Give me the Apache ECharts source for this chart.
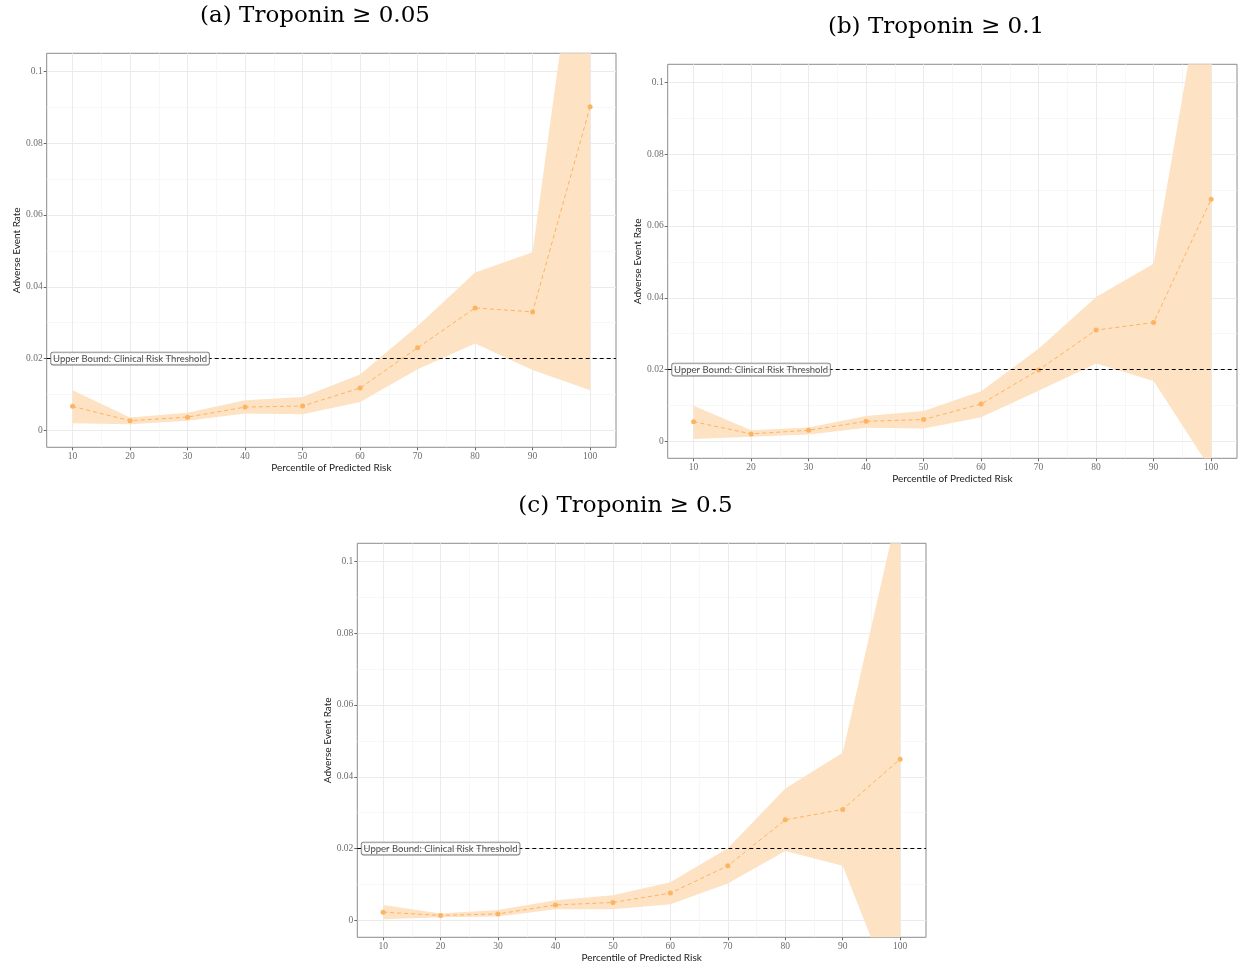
<!DOCTYPE html>
<html>
<head>
<meta charset="utf-8">
<title>Adverse event rate by percentile of predicted risk</title>
<script src="https://cdn.jsdelivr.net/npm/echarts@6/dist/echarts.min.js"></script>
<style>
  html, body { margin: 0; padding: 0; background: #fff; }
  #chart { width: 1238px; height: 965px; }
</style>
</head>
<body>
<div id="chart"></div>
<script>
// Percentile bins of predicted risk (x axis)
const percentiles = [10, 20, 30, 40, 50, 60, 70, 80, 90, 100];
const xMajorTicks = [10, 20, 30, 40, 50, 60, 70, 80, 90, 100];
const xMinorTicks = [15, 25, 35, 45, 55, 65, 75, 85, 95];
const yMajorTicks = [0, 0.02, 0.04, 0.06, 0.08, 0.1];
const yMinorTicks = [0.01, 0.03, 0.05, 0.07, 0.09];

// (a) Troponin >= 0.05
const rateA  = [0.0067, 0.0027, 0.0037, 0.0065, 0.0068, 0.0118, 0.0230, 0.0341, 0.0330, 0.0901];
const lowerA = [0.0020, 0.0017, 0.0027, 0.0047, 0.0045, 0.0079, 0.0170, 0.0242, 0.0168, 0.0112];
const upperA = [0.0112, 0.0036, 0.0049, 0.0084, 0.0093, 0.0156, 0.0291, 0.0440, 0.0496, 0.1670];

// (b) Troponin >= 0.1
const rateB  = [0.0055, 0.0021, 0.0031, 0.0056, 0.0061, 0.0104, 0.0199, 0.0310, 0.0331, 0.0674];
const lowerB = [0.0007, 0.0013, 0.0019, 0.0038, 0.0036, 0.0067, 0.0141, 0.0217, 0.0168, -0.0079];
const upperB = [0.0099, 0.0031, 0.0039, 0.0071, 0.0085, 0.0140, 0.0258, 0.0402, 0.0495, 0.1420];

// (c) Troponin >= 0.5
const rateC  = [0.0023, 0.0014, 0.0018, 0.0043, 0.0050, 0.0076, 0.0152, 0.0280, 0.0309, 0.0449];
const lowerC = [0.0003, 0.0009, 0.0011, 0.0031, 0.0031, 0.0045, 0.0103, 0.0193, 0.0152, -0.0254];
const upperC = [0.0043, 0.0019, 0.0029, 0.0056, 0.0070, 0.0106, 0.0201, 0.0367, 0.0467, 0.1170];

const threshold = 0.02;
const thresholdLabel = 'Upper Bound: Clinical Risk Threshold';
const thresholdLabelX = 20;

const panelTitles = ['(a) Troponin \u2265 0.05', '(b) Troponin \u2265 0.1', '(c) Troponin \u2265 0.5'];
const xAxisTitle = 'Percentile of Predicted Risk';
const yAxisTitle = 'Adverse Event Rate';

const panels = [
  { rate: rateA, lower: lowerA, upper: upperA },
  { rate: rateB, lower: lowerB, upper: upperB },
  { rate: rateC, lower: lowerC, upper: upperC }
];

// Panel placement (pixels)
const layout = [
  { left: 46.7,  top: 53.3,  width: 569.3, height: 394, title: [315, 16] },
  { left: 667.7, top: 64.3,  width: 569.3, height: 394, title: [936, 27] },
  { left: 357.3, top: 543.3, width: 568.7, height: 394, title: [625.5, 506] }
];

const X_MIN = 5.5, X_MAX = 104.5;
const Y_MIN = -0.0047, Y_MAX = 0.105;

const ORANGE = '#fdb462';
const BAND = '#fde2c3';
const GRID_MAJOR = '#ebebeb';
const GRID_MINOR = '#f4f4f4';
const TICK_FONT = { fontFamily: 'Liberation Serif', fontSize: 9.5, color: '#6e6e6e' };
const TITLE_FONT = { fontFamily: 'Lato', fontSize: 10, color: '#1a1a1a' };

// Ribbon between lower and upper bounds, drawn once as a single polygon
function renderBand(params, api) {
  if (params.dataIndexInside !== 0) return null;
  const n = params.dataInsideLength;
  const top = [], bottom = [];
  for (let j = 0; j < n; j++) {
    const x = api.value(0, j);
    top.push(api.coord([x, api.value(2, j)]));
    bottom.push(api.coord([x, api.value(1, j)]));
  }
  const cs = params.coordSys;
  return {
    type: 'polygon',
    shape: { points: top.concat(bottom.reverse()) },
    style: { fill: BAND },
    clipPath: { type: 'rect', shape: { x: cs.x, y: cs.y, width: cs.width, height: cs.height } },
    silent: true
  };
}

const grids = [], xAxes = [], yAxes = [], series = [], graphics = [];

panels.forEach((p, i) => {
  const L = layout[i];
  grids.push({
    left: L.left, top: L.top, width: L.width, height: L.height,
    show: true, borderColor: '#8c8c8c', borderWidth: 1, backgroundColor: '#fff',
    containLabel: false
  });

  // major x axis (labels, ticks, major grid)
  xAxes.push({
    type: 'value', gridIndex: i, min: X_MIN, max: X_MAX, position: 'bottom',
    name: xAxisTitle, nameLocation: 'middle', nameGap: 15,
    nameTextStyle: TITLE_FONT,
    axisLine: { show: false, onZero: false },
    axisTick: { show: true, length: 3, lineStyle: { color: '#666' }, customValues: xMajorTicks },
    axisLabel: Object.assign({ margin: 4, customValues: xMajorTicks }, TICK_FONT),
    splitLine: { show: true, lineStyle: { color: GRID_MAJOR, width: 1 } }
  });
  // minor x grid
  xAxes.push({
    type: 'value', gridIndex: i, min: X_MIN, max: X_MAX, position: 'bottom',
    axisLine: { show: false, onZero: false },
    axisTick: { show: false, customValues: xMinorTicks },
    axisLabel: { show: false, customValues: xMinorTicks },
    splitLine: { show: true, lineStyle: { color: GRID_MINOR, width: 0.7 } }
  });

  // major y axis
  yAxes.push({
    type: 'value', gridIndex: i, min: Y_MIN, max: Y_MAX, position: 'left',
    name: yAxisTitle, nameLocation: 'middle', nameGap: 25,
    nameTextStyle: TITLE_FONT,
    axisLine: { show: false, onZero: false },
    axisTick: { show: true, length: 3, lineStyle: { color: '#666' }, customValues: yMajorTicks },
    axisLabel: Object.assign({ margin: 4, customValues: yMajorTicks }, TICK_FONT),
    splitLine: { show: true, lineStyle: { color: GRID_MAJOR, width: 1 } }
  });
  // minor y grid
  yAxes.push({
    type: 'value', gridIndex: i, min: Y_MIN, max: Y_MAX, position: 'left',
    axisLine: { show: false, onZero: false },
    axisTick: { show: false, customValues: yMinorTicks },
    axisLabel: { show: false, customValues: yMinorTicks },
    splitLine: { show: true, lineStyle: { color: GRID_MINOR, width: 0.7 } }
  });

  const xi = 2 * i, yi = 2 * i;

  // confidence band
  series.push({
    type: 'custom', xAxisIndex: xi, yAxisIndex: yi,
    data: percentiles.map((x, k) => [x, p.lower[k], p.upper[k]]),
    encode: { x: 0, y: [1, 2] },
    renderItem: renderBand,
    silent: true, z: 1
  });

  // observed rate with the threshold reference line
  series.push({
    type: 'line', xAxisIndex: xi, yAxisIndex: yi,
    data: percentiles.map((x, k) => [x, p.rate[k]]),
    symbol: 'circle', symbolSize: 5,
    itemStyle: { color: ORANGE },
    lineStyle: { color: ORANGE, width: 1, type: [4, 3] },
    z: 3,
    markLine: {
      silent: true, symbol: 'none',
      label: { show: false },
      lineStyle: { color: '#000', width: 1, type: [4, 3] },
      data: [{ yAxis: threshold }],
      z: 4
    }
  });

  // boxed threshold label
  series.push({
    type: 'scatter', xAxisIndex: xi, yAxisIndex: yi,
    data: [[thresholdLabelX, threshold]],
    symbolSize: 0, silent: true, z: 10,
    label: {
      show: true, position: 'inside', formatter: thresholdLabel,
      fontFamily: 'Lato', fontSize: 9.5, color: '#1a1a1a',
      backgroundColor: '#fff', borderColor: '#555', borderWidth: 0.8, borderRadius: 2,
      padding: [1, 2, 1, 2]
    }
  });

  graphics.push({
    type: 'text', x: L.title[0], y: L.title[1], silent: true,
    style: {
      text: panelTitles[i], fill: '#000',
      font: '23px "DejaVu Serif"', align: 'center', verticalAlign: 'middle'
    }
  });
});

const chart = echarts.init(document.getElementById('chart'), null, { renderer: 'canvas' });
chart.setOption({
  backgroundColor: '#fff',
  animation: false,
  grid: grids,
  xAxis: xAxes,
  yAxis: yAxes,
  series: series,
  graphic: graphics
});
</script>
</body>
</html>
